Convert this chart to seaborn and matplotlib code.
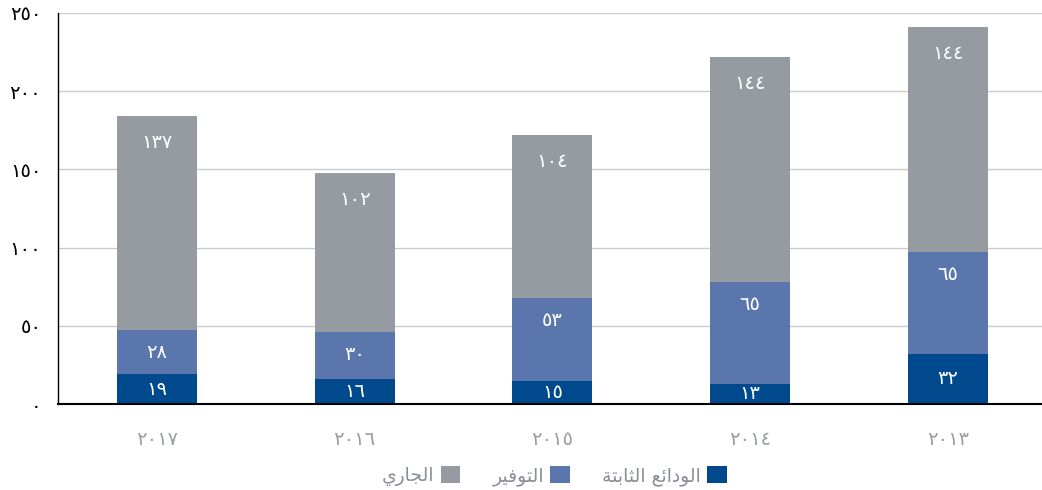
import matplotlib.pyplot as plt
import pandas as pd
import seaborn as sns

years = ["2017", "2016", "2015", "2014", "2013"]
fixed_deposits = [19, 16, 15, 13, 32]
savings = [28, 30, 53, 65, 65]
current = [137, 102, 104, 144, 144]
y_ticks = [0, 50, 100, 150, 200, 250]
series_names = ["الودائع الثابتة", "التوفير", "الجاري"]
colors = ["#00498c", "#5a76ad", "#969ba2"]

AR_DIGITS = str.maketrans("0123456789", "٠١٢٣٤٥٦٧٨٩")


def ar_num(v):
    return str(v).translate(AR_DIGITS)


# isolated, final, initial, medial (None = letter does not join to the next one)
FORMS = {
    "ا": (0xFE8D, 0xFE8E, None, None),
    "ب": (0xFE8F, 0xFE90, 0xFE91, 0xFE92),
    "ة": (0xFE93, 0xFE94, None, None),
    "ت": (0xFE95, 0xFE96, 0xFE97, 0xFE98),
    "ث": (0xFE99, 0xFE9A, 0xFE9B, 0xFE9C),
    "ج": (0xFE9D, 0xFE9E, 0xFE9F, 0xFEA0),
    "د": (0xFEA9, 0xFEAA, None, None),
    "ر": (0xFEAD, 0xFEAE, None, None),
    "ع": (0xFEC9, 0xFECA, 0xFECB, 0xFECC),
    "ف": (0xFED1, 0xFED2, 0xFED3, 0xFED4),
    "ل": (0xFEDD, 0xFEDE, 0xFEDF, 0xFEE0),
    "و": (0xFEED, 0xFEEE, None, None),
    "ي": (0xFEF1, 0xFEF2, 0xFEF3, 0xFEF4),
    "ئ": (0xFE89, 0xFE8A, 0xFE8B, 0xFE8C),
}


def shape(text):
    """Very small Arabic shaper: contextual forms + visual (LTR) order."""
    words = []
    for word in text.split(" "):
        out = []
        for i, ch in enumerate(word):
            f = FORMS[ch]
            joins_prev = i > 0 and FORMS[word[i - 1]][2] is not None
            joins_next = i < len(word) - 1 and f[2] is not None
            if joins_prev and joins_next:
                code = f[3]
            elif joins_prev:
                code = f[1]
            elif joins_next:
                code = f[2]
            else:
                code = f[0]
            out.append(chr(code))
        words.append("".join(out))
    return " ".join(words)[::-1]


df = pd.DataFrame({
    "year": [ar_num(y) for y in years],
    "fixed": fixed_deposits,
    "savings": savings,
    "current": current,
})
df["mid"] = df["fixed"] + df["savings"]
df["total"] = df["mid"] + df["current"]

sns.set_style("whitegrid")
plt.rcParams["font.family"] = ["DejaVu Sans"]

fig = plt.figure(figsize=(10.42, 4.9), dpi=100)
ax = fig.add_axes([58 / 1042, 1 - 404 / 490, 1 - 58 / 1042, (404 - 13) / 490])

bar_w = 0.405
sns.barplot(data=df, x="year", y="total", color=colors[2], saturation=1, linewidth=0,
            width=bar_w, errorbar=None, ax=ax, label=shape(series_names[2]))
sns.barplot(data=df, x="year", y="mid", color=colors[1], saturation=1, linewidth=0,
            width=bar_w, errorbar=None, ax=ax, label=shape(series_names[1]))
sns.barplot(data=df, x="year", y="fixed", color=colors[0], saturation=1, linewidth=0,
            width=bar_w, errorbar=None, ax=ax, label=shape(series_names[0]))
if ax.get_legend() is not None:
    ax.get_legend().remove()

gray_bars, mid_bars, dark_bars = ax.containers
ax.bar_label(gray_bars, labels=[ar_num(v) for v in df["current"]], padding=-26,
             color="white", fontsize=14)
ax.bar_label(mid_bars, labels=[ar_num(v) for v in df["savings"]], padding=-23,
             color="white", fontsize=14)
# the dark segments are short, so their labels sit in the middle
ax.bar_label(dark_bars, labels=[ar_num(v) for v in df["fixed"]],
             label_type="center", color="white", fontsize=14)

ax.set_xlim(-0.5, 4.476)
ax.set_ylim(0, 250)
ax.set_yticks(y_ticks)
ax.set_yticklabels([ar_num(t) for t in y_ticks])
ax.set_xlabel("")
ax.set_ylabel("")
ax.grid(axis="y", color="#c8ccd1", linewidth=1)
ax.grid(axis="x", visible=False)
ax.set_axisbelow(True)
ax.tick_params(axis="y", length=0, pad=12, labelsize=14, labelcolor="black")
ax.tick_params(axis="x", length=0, pad=19, labelsize=14, labelcolor="#9a9ea3")
for side in ["top", "right"]:
    ax.spines[side].set_visible(False)
ax.spines["left"].set_color("black")
ax.spines["left"].set_linewidth(1)
ax.spines["bottom"].set_color("black")
ax.spines["bottom"].set_linewidth(1.5)

handles, labels = ax.get_legend_handles_labels()
fig.legend(handles, labels, loc="lower center", bbox_to_anchor=(0.532, -0.026),
           ncol=3, frameon=False, markerfirst=False, fontsize=13.5,
           labelcolor="#8a8f95", handlelength=1.05, handleheight=1.05,
           handletextpad=0.35, columnspacing=1.7)

plt.savefig("out.png", dpi=100)
